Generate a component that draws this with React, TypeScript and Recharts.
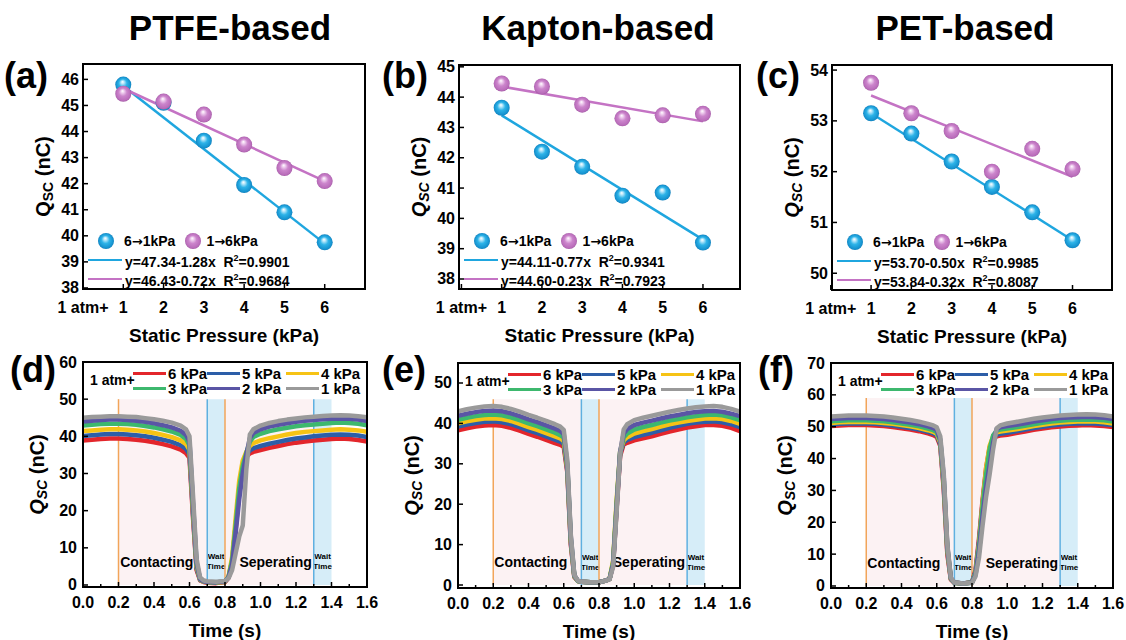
import React from "react";
import { ComposedChart, Line, XAxis, YAxis, ReferenceArea, ReferenceLine } from "recharts";

const FONT = '"Liberation Sans", Arial, Helvetica, sans-serif';

// ---------- top row: Qsc vs static pressure ----------
const pressures = [1, 2, 3, 4, 5, 6];
const pressureTicks = [0, 1, 2, 3, 4, 5, 6];

const ptfeDown = [45.8, 45.1, 43.65, 41.95, 40.9, 39.75];
const ptfeUp = [45.45, 45.15, 44.65, 43.5, 42.6, 42.1];
const ptfeFitDown = [45.75, 39.7]; // fitted line read at 1 and 6 kPa
const ptfeFitUp = [45.65, 42.1];

const kaptonDown = [43.65, 42.2, 41.7, 40.75, 40.85, 39.2];
const kaptonUp = [44.45, 44.35, 43.75, 43.3, 43.4, 43.45];
const kaptonFitDown = [43.4, 39.3];
const kaptonFitUp = [44.35, 43.2];

const petDown = [53.15, 52.75, 52.2, 51.7, 51.2, 50.65];
const petUp = [53.75, 53.15, 52.8, 52.0, 52.45, 52.05];
const petFitDown = [53.15, 50.65];
const petFitUp = [53.5, 51.9];

// ---------- bottom row: Qsc vs time ----------
const times = [
  0, 0.05, 0.1, 0.15, 0.2, 0.25, 0.3, 0.35, 0.4, 0.45, 0.5, 0.55, 0.58, 0.6,
  0.62, 0.64, 0.66, 0.68, 0.7, 0.75, 0.8, 0.82, 0.84, 0.86, 0.88, 0.9, 0.92,
  0.94, 0.96, 1.0, 1.05, 1.1, 1.15, 1.2, 1.25, 1.3, 1.35, 1.4, 1.45, 1.5, 1.55, 1.6,
];
const timeTicks = [0, 0.2, 0.4, 0.6, 0.8, 1.0, 1.2, 1.4, 1.6];
const timeMinorTicks = [0.1, 0.3, 0.5, 0.7, 0.9, 1.1, 1.3, 1.5];

const traceNames = ["6 kPa", "5 kPa", "4 kPa", "3 kPa", "2 kPa", "1 kPa"];
const traceColors = ["#e3262b", "#2c5ea8", "#f6c315", "#3db86e", "#5a55a5", "#9a9a9a"];

const ptfeTraces = [
  [38.9, 39.1, 39.3, 39.4, 39.4, 39.3, 39.1, 38.8, 38.4, 37.9, 37.3, 36.4, 35.5, 34.2, 18, 4, 1.2, 0.8, 0.6, 0.5, 0.8, 2, 6, 15, 25, 32, 34.5, 35.4, 35.8, 36.3, 36.9, 37.4, 37.9, 38.3, 38.6, 38.9, 39.1, 39.3, 39.4, 39.3, 39.0, 38.6],
  [40.1, 40.3, 40.5, 40.6, 40.6, 40.5, 40.3, 40.0, 39.6, 39.1, 38.5, 37.6, 36.6, 35.2, 19, 4.5, 1.3, 0.9, 0.7, 0.6, 0.9, 2, 6.5, 16, 26, 32.5, 35, 36.2, 36.8, 37.4, 38.0, 38.5, 39.0, 39.4, 39.7, 40.0, 40.2, 40.4, 40.5, 40.4, 40.2, 39.8],
  [41.4, 41.6, 41.8, 41.9, 41.9, 41.8, 41.6, 41.3, 40.9, 40.4, 39.8, 38.9, 37.9, 36.4, 20, 5, 1.4, 0.9, 0.7, 0.6, 0.9, 2.2, 7.5, 18, 28, 33.5, 35.8, 37.4, 38.2, 38.9, 39.5, 40.0, 40.5, 40.9, 41.2, 41.4, 41.6, 41.8, 41.9, 41.8, 41.6, 41.2],
  [42.9, 43.1, 43.3, 43.4, 43.4, 43.3, 43.1, 42.8, 42.4, 41.9, 41.3, 40.4, 39.3, 37.6, 21, 5.5, 1.5, 1.0, 0.8, 0.7, 1.0, 2.2, 6.5, 16, 26, 32, 35.5, 38.6, 39.8, 40.7, 41.4, 41.9, 42.3, 42.7, 43.0, 43.2, 43.4, 43.6, 43.7, 43.6, 43.4, 43.0],
  [44.0, 44.2, 44.4, 44.5, 44.5, 44.4, 44.2, 43.9, 43.5, 43.0, 42.4, 41.5, 40.4, 38.6, 22, 6, 1.6, 1.0, 0.8, 0.7, 1.0, 2.0, 5.5, 14, 23, 30, 35, 39.5, 40.9, 41.9, 42.6, 43.1, 43.5, 43.9, 44.2, 44.4, 44.6, 44.7, 44.8, 44.7, 44.5, 44.1],
  [45.0, 45.2, 45.3, 45.4, 45.4, 45.3, 45.2, 44.9, 44.6, 44.2, 43.7, 42.9, 41.9, 40.0, 24, 7, 2, 1.2, 1.0, 0.9, 1.1, 1.8, 4, 8.5, 13, 16, 31, 40.5, 41.9, 42.9, 43.6, 44.1, 44.5, 44.8, 45.1, 45.3, 45.5, 45.6, 45.7, 45.6, 45.4, 45.1],
];

const kaptonTraces = [
  [38.3, 38.8, 39.2, 39.5, 39.6, 39.4, 38.9, 38.2, 37.4, 36.7, 35.9, 35.1, 34.7, 34.2, 28, 10, 2.0, 1.0, 0.8, 0.7, 0.7, 0.9, 1.1, 1.5, 5, 19, 32, 34.8, 35.2, 35.8, 36.3, 36.8, 37.4, 38.0, 38.5, 39.0, 39.3, 39.6, 39.6, 39.4, 38.9, 38.1],
  [39.2, 39.7, 40.1, 40.4, 40.5, 40.3, 39.8, 39.1, 38.3, 37.6, 36.8, 36.0, 35.5, 35.0, 28.5, 10.5, 2.1, 1.0, 0.8, 0.7, 0.7, 0.9, 1.1, 1.5, 5.5, 20, 32.5, 35.3, 35.9, 36.6, 37.2, 37.7, 38.3, 38.9, 39.4, 39.9, 40.2, 40.4, 40.5, 40.3, 39.8, 39.1],
  [40.0, 40.5, 40.9, 41.2, 41.3, 41.1, 40.6, 39.9, 39.1, 38.4, 37.6, 36.8, 36.3, 35.7, 29, 11, 2.2, 1.0, 0.8, 0.7, 0.7, 0.9, 1.1, 1.5, 6, 21, 33, 35.8, 36.6, 37.5, 38.1, 38.6, 39.2, 39.8, 40.2, 40.6, 40.9, 41.2, 41.3, 41.1, 40.6, 39.9],
  [40.9, 41.4, 41.8, 42.1, 42.2, 42.0, 41.5, 40.8, 40.0, 39.3, 38.5, 37.7, 37.1, 36.5, 29.5, 11.5, 2.3, 1.0, 0.8, 0.7, 0.7, 0.9, 1.1, 1.5, 5.5, 20, 33, 36.5, 37.5, 38.5, 39.1, 39.6, 40.2, 40.7, 41.1, 41.5, 41.8, 42.1, 42.2, 42.0, 41.5, 40.8],
  [41.9, 42.4, 42.8, 43.1, 43.2, 43.0, 42.5, 41.8, 41.0, 40.3, 39.5, 38.7, 38.1, 37.4, 30, 12, 2.4, 1.1, 0.8, 0.7, 0.7, 0.9, 1.1, 1.5, 5, 19, 33, 37.5, 38.6, 39.6, 40.2, 40.7, 41.2, 41.7, 42.1, 42.5, 42.8, 43.0, 43.1, 42.9, 42.4, 41.8],
  [43.0, 43.5, 43.9, 44.2, 44.3, 44.1, 43.6, 42.9, 42.1, 41.4, 40.6, 39.8, 39.2, 38.4, 31, 12.5, 2.5, 1.1, 0.8, 0.7, 0.7, 0.9, 1.1, 1.4, 4.5, 18, 32.5, 38.5, 39.8, 40.8, 41.4, 41.9, 42.4, 42.9, 43.3, 43.7, 44.0, 44.2, 44.3, 44.1, 43.6, 42.9],
];

const petTraces = [
  [50.2, 50.4, 50.5, 50.5, 50.5, 50.4, 50.2, 49.9, 49.5, 49.1, 48.6, 47.9, 47.4, 46.8, 44, 30, 10, 2, 1.0, 0.8, 1.2, 5, 15, 27, 37, 43.5, 46, 47.0, 47.2, 47.5, 48.0, 48.5, 49.0, 49.4, 49.8, 50.1, 50.3, 50.4, 50.5, 50.4, 50.2, 49.9],
  [50.7, 50.9, 51.0, 51.0, 51.0, 50.9, 50.7, 50.4, 50.0, 49.6, 49.1, 48.4, 47.9, 47.3, 44.5, 31, 11, 2.2, 1.0, 0.8, 1.1, 4.5, 14, 26, 36, 43, 46.3, 47.5, 47.8, 48.1, 48.6, 49.1, 49.6, 50.0, 50.4, 50.7, 50.9, 51.0, 51.1, 51.0, 50.8, 50.5],
  [51.2, 51.4, 51.5, 51.5, 51.5, 51.4, 51.2, 50.9, 50.5, 50.1, 49.6, 48.9, 48.4, 47.8, 45, 32, 11.5, 2.3, 1.0, 0.8, 1.1, 4, 13, 26, 37, 44, 47, 48.2, 48.5, 48.8, 49.2, 49.7, 50.2, 50.6, 51.0, 51.3, 51.5, 51.6, 51.7, 51.6, 51.4, 51.0],
  [51.7, 51.9, 52.0, 52.0, 52.0, 51.9, 51.7, 51.4, 51.0, 50.6, 50.1, 49.4, 48.9, 48.3, 45.5, 33, 12, 2.4, 1.0, 0.8, 1.1, 4, 12.5, 25, 35, 43, 47.3, 48.8, 49.1, 49.4, 49.8, 50.3, 50.8, 51.2, 51.6, 51.9, 52.1, 52.2, 52.3, 52.2, 52.0, 51.6],
  [52.4, 52.6, 52.7, 52.7, 52.7, 52.6, 52.4, 52.1, 51.7, 51.3, 50.8, 50.1, 49.6, 49.0, 46, 34, 12.5, 2.5, 1.1, 0.8, 1.1, 3.5, 11, 22, 31, 38, 45, 49.3, 49.8, 50.2, 50.6, 51.1, 51.6, 52.0, 52.4, 52.7, 52.9, 53.0, 53.1, 53.0, 52.8, 52.4],
  [53.2, 53.4, 53.5, 53.5, 53.5, 53.4, 53.2, 52.9, 52.5, 52.1, 51.6, 50.9, 50.4, 49.8, 47, 35, 13, 2.6, 1.1, 0.8, 1.0, 3, 9, 19, 28, 35, 43, 49.5, 50.4, 51.0, 51.5, 52.0, 52.5, 52.9, 53.2, 53.5, 53.7, 53.8, 53.9, 53.8, 53.6, 53.2],
];

type Box = { L: number; T: number; R: number; B: number };
const PAD = { l: 62, t: 14, r: 16, b: 60 };
const BLUE = "#1fa6df";
const PINK = "#c473c4";

function Frame({ box }: { box: Box }) {
  return (
    <div
      style={{
        position: "absolute",
        left: box.L - 1,
        top: box.T - 1,
        width: box.R - box.L + 2,
        height: box.B - box.T + 2,
        border: "2px solid #000",
        boxSizing: "border-box",
        pointerEvents: "none",
      }}
    />
  );
}

const yTick = (gap: number) => (p: any) => (
  <g>
    <line x1={p.x} x2={p.x + 5} y1={p.y} y2={p.y} stroke="#000" strokeWidth={1.5} />
    <text x={p.x - gap} y={p.y} textAnchor="end" dominantBaseline="central" fontFamily={FONT} fontWeight="bold" fontSize={16} fill="#000">
      {p.payload.value}
    </text>
  </g>
);

const xTick = (dy: number, fmt: (v: number) => string, minor: number[]) => (p: any) => {
  const isMinor = minor.includes(p.payload.value);
  return (
    <g>
      <line x1={p.x} x2={p.x} y1={p.y} y2={p.y - (isMinor ? 3 : 5)} stroke="#000" strokeWidth={1.5} />
      {!isMinor && (
        <text x={p.x} y={p.y + dy} textAnchor="middle" dominantBaseline="central" fontFamily={FONT} fontWeight="bold" fontSize={16} fill="#000">
          {fmt(p.payload.value)}
        </text>
      )}
    </g>
  );
};

const yLabel = (off: number, italic: boolean) => (p: any) => {
  const vb = p.viewBox;
  const cx = vb.x + vb.width - off;
  const cy = vb.y + vb.height / 2;
  return (
    <text x={cx} y={cy} transform={`rotate(-90 ${cx} ${cy})`} textAnchor="middle" dominantBaseline="central" fontFamily={FONT} fontWeight="bold" fontSize={20} fill="#000">
      <tspan fontStyle={italic ? "italic" : "normal"}>Q</tspan>
      <tspan fontSize={14} dy={5} fontStyle={italic ? "italic" : "normal"}>SC</tspan>
      <tspan dy={-5}>{" (nC)"}</tspan>
    </text>
  );
};

const xLabel = (text: string, dy: number) => (p: any) => {
  const vb = p.viewBox;
  return (
    <text x={vb.x + vb.width / 2} y={vb.y + dy} textAnchor="middle" dominantBaseline="central" fontFamily={FONT} fontWeight="bold" fontSize={19} fill="#000">
      {text}
    </text>
  );
};

const ball = (grad: string) => (p: any) => {
  if (p.cy == null || p.value == null) return <g key={p.index} />;
  return <circle key={p.index} cx={p.cx} cy={p.cy} r={8} fill={`url(#${grad})`} />;
};

function BallIcon({ grad }: { grad: string }) {
  return (
    <svg width={18} height={18} style={{ display: "block" }}>
      <circle cx={9} cy={9} r={8} fill={`url(#${grad})`} />
    </svg>
  );
}

const Arrow = () => <span style={{ fontFamily: '"DejaVu Sans", sans-serif', fontSize: 13 }}>→</span>;

type SweepProps = {
  box: Box;
  xDomain: [number, number];
  yDomain: [number, number];
  yTicks: number[];
  down: number[];
  up: number[];
  fitDown: number[];
  fitUp: number[];
  eqDown: [string, string];
  eqUp: [string, string];
  italicQ: boolean;
};

function SweepPanel(props: SweepProps) {
  const { box, xDomain, yDomain, yTicks, down, up, fitDown, fitUp, eqDown, eqUp, italicQ } = props;
  const w = box.R - box.L;
  const h = box.B - box.T;
  const last = pressures.length - 1;
  const rows = pressures.map((x, i) => ({
    x,
    down: down[i],
    up: up[i],
    fitDown: i === 0 ? fitDown[0] : i === last ? fitDown[1] : null,
    fitUp: i === 0 ? fitUp[0] : i === last ? fitUp[1] : null,
  }));
  const txt: React.CSSProperties = { fontFamily: FONT, fontWeight: "bold", fontSize: 14, whiteSpace: "nowrap", lineHeight: "16px" };
  const rowStyle = (dy: number): React.CSSProperties => ({ position: "absolute", top: box.B - dy - 8, height: 16, display: "flex", alignItems: "center" });
  return (
    <>
      <div style={{ position: "absolute", left: box.L - PAD.l, top: box.T - PAD.t }}>
        <ComposedChart width={PAD.l + w + PAD.r} height={PAD.t + h + PAD.b} data={rows} margin={{ top: PAD.t, right: PAD.r, left: 0, bottom: 0 }}>
          <XAxis
            dataKey="x"
            type="number"
            domain={xDomain}
            allowDataOverflow
            ticks={pressureTicks}
            interval={0}
            height={PAD.b}
            axisLine={false}
            tickLine={false}
            tickSize={0}
            tickMargin={0}
            tick={xTick(18, (v) => (v === 0 ? "1 atm+" : String(v)), [])}
            label={xLabel("Static Pressure (kPa)", 46)}
          />
          <YAxis
            type="number"
            domain={yDomain}
            allowDataOverflow
            ticks={yTicks}
            interval={0}
            width={PAD.l}
            axisLine={false}
            tickLine={false}
            tickSize={0}
            tickMargin={0}
            tick={yTick(4)}
            label={yLabel(40, italicQ)}
          />
          <Line dataKey="fitDown" stroke={BLUE} strokeWidth={2.5} dot={false} activeDot={false} connectNulls isAnimationActive={false} type="linear" />
          <Line dataKey="fitUp" stroke={PINK} strokeWidth={2.5} dot={false} activeDot={false} connectNulls isAnimationActive={false} type="linear" />
          <Line dataKey="down" stroke="none" dot={ball("ballBlue")} activeDot={false} isAnimationActive={false} />
          <Line dataKey="up" stroke="none" dot={ball("ballPink")} activeDot={false} isAnimationActive={false} />
        </ComposedChart>
      </div>
      <Frame box={box} />
      <div style={{ ...rowStyle(48), left: box.L + 14 }}>
        <BallIcon grad="ballBlue" />
        <span style={{ ...txt, marginLeft: 9 }}>6<Arrow />1kPa</span>
        <span style={{ marginLeft: 9 }}><BallIcon grad="ballPink" /></span>
        <span style={{ ...txt, marginLeft: 4 }}>1<Arrow />6kPa</span>
      </div>
      <div style={{ ...rowStyle(29), left: box.L + 5 }}>
        <div style={{ width: 34, height: 2.5, background: BLUE }} />
        <span style={{ ...txt, marginLeft: 3 }}>
          {eqDown[0]}&nbsp;&nbsp;R<sup style={{ fontSize: 9 }}>2</sup>={eqDown[1]}
        </span>
      </div>
      <div style={{ ...rowStyle(10), left: box.L + 5 }}>
        <div style={{ width: 34, height: 2.5, background: PINK }} />
        <span style={{ ...txt, marginLeft: 3 }}>
          {eqUp[0]}&nbsp;&nbsp;R<sup style={{ fontSize: 9 }}>2</sup>={eqUp[1]}
        </span>
      </div>
    </>
  );
}

type TraceProps = {
  box: Box;
  yDomain: [number, number];
  yTicks: number[];
  traces: number[][];
  bandTop: number;
};

function TracePanel({ box, yDomain, yTicks, traces, bandTop }: TraceProps) {
  const w = box.R - box.L;
  const h = box.B - box.T;
  const rows = times.map((t, i) => {
    const r: Record<string, number> = { t };
    traces.forEach((s, k) => (r[`s${k}`] = s[i]));
    return r;
  });
  const allTicks = [...timeTicks, ...timeMinorTicks].sort((a, b) => a - b);
  const small = { fontFamily: FONT, fontWeight: "bold", fontSize: 8 } as const;
  const waitLabel = (p: any) => {
    const vb = p.viewBox;
    const cx = vb.x + vb.width / 2;
    const by = vb.y + vb.height;
    return (
      <g>
        <text x={cx} y={by - 28} textAnchor="middle" dominantBaseline="central" {...small}>Wait</text>
        <text x={cx} y={by - 18} textAnchor="middle" dominantBaseline="central" {...small}>Time</text>
      </g>
    );
  };
  const stageLabel = (text: string, back: number) => (p: any) => {
    const vb = p.viewBox;
    return (
      <text x={vb.x + vb.width - back} y={vb.y + vb.height - 23} textAnchor="end" dominantBaseline="central" fontFamily={FONT} fontWeight="bold" fontSize={14}>
        {text}
      </text>
    );
  };
  const cols = [50, 124, 203];
  const txt: React.CSSProperties = { fontFamily: FONT, fontWeight: "bold", fontSize: 15, whiteSpace: "nowrap", lineHeight: "15px" };
  return (
    <>
      <div style={{ position: "absolute", left: box.L - PAD.l, top: box.T - PAD.t }}>
        <ComposedChart width={PAD.l + w + PAD.r} height={PAD.t + h + PAD.b} data={rows} margin={{ top: PAD.t, right: PAD.r, left: 0, bottom: 0 }}>
          <XAxis
            dataKey="t"
            type="number"
            domain={[0, 1.6]}
            allowDataOverflow
            ticks={allTicks}
            interval={0}
            height={PAD.b}
            axisLine={false}
            tickLine={false}
            tickSize={0}
            tickMargin={0}
            tick={xTick(15, (v) => v.toFixed(1), timeMinorTicks)}
            label={xLabel("Time (s)", 43)}
          />
          <YAxis
            type="number"
            domain={yDomain}
            allowDataOverflow
            ticks={yTicks}
            interval={0}
            width={PAD.l}
            axisLine={false}
            tickLine={false}
            tickSize={0}
            tickMargin={0}
            tick={yTick(6)}
            label={yLabel(46, true)}
          />
          <ReferenceArea x1={0.2} x2={0.7} y1={0} y2={bandTop} fill="#fcf2f3" fillOpacity={1} stroke="none" label={stageLabel("Contacting", 14)} />
          <ReferenceArea x1={0.8} x2={1.3} y1={0} y2={bandTop} fill="#fcf2f3" fillOpacity={1} stroke="none" label={stageLabel("Seperating", 2)} />
          <ReferenceArea x1={0.7} x2={0.8} y1={0} y2={bandTop} fill="#d6edf8" fillOpacity={1} stroke="none" label={waitLabel} />
          <ReferenceArea x1={1.3} x2={1.4} y1={0} y2={bandTop} fill="#d6edf8" fillOpacity={1} stroke="none" label={waitLabel} />
          <ReferenceLine segment={[{ x: 0.7, y: 0 }, { x: 0.7, y: bandTop }]} stroke="#5fb0e0" strokeWidth={1.5} />
          <ReferenceLine segment={[{ x: 1.3, y: 0 }, { x: 1.3, y: bandTop }]} stroke="#5fb0e0" strokeWidth={1.5} />
          <ReferenceLine segment={[{ x: 0.2, y: 0 }, { x: 0.2, y: bandTop }]} stroke="#f2a55a" strokeWidth={1.5} />
          <ReferenceLine segment={[{ x: 0.8, y: 0 }, { x: 0.8, y: bandTop }]} stroke="#f2a55a" strokeWidth={1.5} />
          {traces.map((_, k) => (
            <Line
              key={k}
              dataKey={`s${k}`}
              stroke={traceColors[k]}
              strokeWidth={4.5}
              strokeLinejoin="round"
              dot={false}
              activeDot={false}
              type="linear"
              isAnimationActive={false}
            />
          ))}
        </ComposedChart>
      </div>
      <Frame box={box} />
      <div style={{ ...txt, position: "absolute", left: box.L + 7, top: box.T + 19 - 8, fontSize: 14 }}>1 atm+</div>
      {traceNames.map((name, k) => (
        <div
          key={name}
          style={{
            position: "absolute",
            left: box.L + cols[k % 3],
            top: box.T + (k < 3 ? 11 : 26) - 7,
            display: "flex",
            alignItems: "center",
            height: 15,
          }}
        >
          <div style={{ width: 33, height: 2.5, background: traceColors[k] }} />
          <span style={{ ...txt, marginLeft: 2 }}>{name}</span>
        </div>
      ))}
    </>
  );
}

export default function App() {
  return (
    <div style={{ position: "absolute", left: 0, top: 0, width: 1126, height: 640, background: "#fff", overflow: "hidden", fontFamily: FONT }}>
      <svg width={0} height={0} style={{ position: "absolute" }}>
        <defs>
          <radialGradient id="ballBlue" cx="50%" cy="50%" r="50%" fx="45%" fy="32%">
            <stop offset="0%" stopColor="#ffffff" />
            <stop offset="18%" stopColor="#bde9fb" />
            <stop offset="50%" stopColor="#2db3e8" />
            <stop offset="90%" stopColor="#1592cf" />
            <stop offset="100%" stopColor="#1380bb" />
          </radialGradient>
          <radialGradient id="ballPink" cx="50%" cy="50%" r="50%" fx="45%" fy="32%">
            <stop offset="0%" stopColor="#ffffff" />
            <stop offset="18%" stopColor="#f0d2f0" />
            <stop offset="50%" stopColor="#cc85cc" />
            <stop offset="90%" stopColor="#b96cba" />
            <stop offset="100%" stopColor="#a35aa4" />
          </radialGradient>
        </defs>
      </svg>

      <SweepPanel
        box={{ L: 83, T: 64, R: 365, B: 289 }}
        xDomain={[0, 7]}
        yDomain={[37.96, 46.59]}
        yTicks={[38, 39, 40, 41, 42, 43, 44, 45, 46]}
        down={ptfeDown}
        up={ptfeUp}
        fitDown={ptfeFitDown}
        fitUp={ptfeFitUp}
        eqDown={["y=47.34-1.28x", "0.9901"]}
        eqUp={["y=46.43-0.72x", "0.9684"]}
        italicQ={false}
      />
      <SweepPanel
        box={{ L: 459, T: 65, R: 740, B: 289 }}
        xDomain={[-0.06, 6.92]}
        yDomain={[37.67, 45.06]}
        yTicks={[38, 39, 40, 41, 42, 43, 44, 45]}
        down={kaptonDown}
        up={kaptonUp}
        fitDown={kaptonFitDown}
        fitUp={kaptonFitUp}
        eqDown={["y=44.11-0.77x", "0.9341"]}
        eqUp={["y=44.60-0.23x", "0.7923"]}
        italicQ={true}
      />
      <SweepPanel
        box={{ L: 832, T: 65, R: 1112, B: 290 }}
        xDomain={[0.03, 6.98]}
        yDomain={[49.67, 54.1]}
        yTicks={[50, 51, 52, 53, 54]}
        down={petDown}
        up={petUp}
        fitDown={petFitDown}
        fitUp={petFitUp}
        eqDown={["y=53.70-0.50x", "0.9985"]}
        eqUp={["y=53.84-0.32x", "0.8087"]}
        italicQ={true}
      />

      <TracePanel box={{ L: 83, T: 362, R: 367, B: 587 }} yDomain={[-0.54, 60]} yTicks={[0, 10, 20, 30, 40, 50, 60]} traces={ptfeTraces} bandTop={50} />
      <TracePanel box={{ L: 458, T: 363, R: 740, B: 588 }} yDomain={[-0.74, 54.95]} yTicks={[0, 10, 20, 30, 40, 50]} traces={kaptonTraces} bandTop={46} />
      <TracePanel box={{ L: 831, T: 363, R: 1113, B: 588 }} yDomain={[-0.63, 70]} yTicks={[0, 10, 20, 30, 40, 50, 60, 70]} traces={petTraces} bandTop={59} />

      <svg width={1126} height={640} style={{ position: "absolute", left: 0, top: 0, pointerEvents: "none" }}>
        <g fontFamily={FONT} fontWeight="bold" fill="#000">
          <text x={230} y={40} textAnchor="middle" fontSize={35}>PTFE-based</text>
          <text x={598} y={40} textAnchor="middle" fontSize={35}>Kapton-based</text>
          <text x={965} y={40} textAnchor="middle" fontSize={35}>PET-based</text>
          <text x={4} y={88} fontSize={36}>(a)</text>
          <text x={382} y={88} fontSize={36}>(b)</text>
          <text x={756} y={88} fontSize={36}>(c)</text>
          <text x={10} y={382} fontSize={36}>(d)</text>
          <text x={382} y={382} fontSize={36}>(e)</text>
          <text x={758} y={382} fontSize={36}>(f)</text>
        </g>
      </svg>
    </div>
  );
}
